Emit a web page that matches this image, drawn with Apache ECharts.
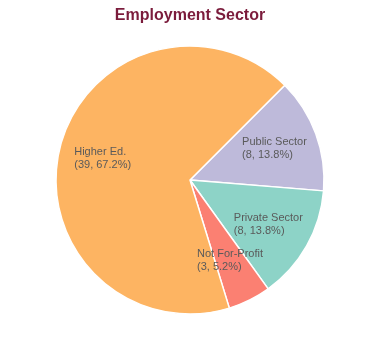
<!DOCTYPE html>
<html>
<head>
<meta charset="utf-8">
<script src="https://cdn.jsdelivr.net/npm/echarts@6/dist/echarts.min.js"></script>
<style>html,body{margin:0;padding:0;background:#fff}#c{width:380px;height:360px}</style>
</head>
<body>
<div id="c"></div>
<script>
const categories = ['Public Sector', 'Private Sector', 'Not For-Profit', 'Higher Ed.'];
const values = [8, 8, 3, 39];
const colors = ['#bebada', '#8dd3c7', '#fb8072', '#fdb462'];

const total = values.reduce((a, b) => a + b, 0);
const data = categories.map((c, i) => ({ name: c, value: values[i], itemStyle: { color: colors[i] } }));
const labelData = categories.map((c, i) => ({ name: c, value: values[i] }));

const chart = echarts.init(document.getElementById('c'), null, { renderer: 'canvas' });
chart.setOption({
  animation: false,
  title: {
    text: 'Employment Sector',
    left: 'center',
    top: 3,
    textStyle: { fontFamily: 'Liberation Sans, Arial, sans-serif', fontSize: 16, fontWeight: 'bold', color: '#7b1c3c' }
  },
  series: [
    {
      type: 'pie',
      center: [190, 180],
      radius: [0, 134],
      startAngle: 45,
      clockwise: true,
      silent: true,
      label: { show: false },
      labelLine: { show: false },
      itemStyle: { borderColor: '#fff', borderWidth: 1.5 },
      data: data
    },
    {
      type: 'pie',
      center: [190, 180],
      radius: [40, 134],
      startAngle: 45,
      clockwise: true,
      silent: true,
      itemStyle: { color: 'rgba(0,0,0,0)' },
      labelLine: { show: false },
      label: {
        show: true,
        position: 'inside',
        color: '#5a5a5a',
        fontFamily: 'Liberation Sans, Arial, sans-serif',
        fontSize: 11,
        lineHeight: 13,
        formatter: p => '{l|' + p.name + '}\n{l|(' + p.value + ', ' + (p.value / total * 100).toFixed(1) + '%)}',
        rich: { l: { align: 'left', color: '#5a5a5a', fontSize: 11, lineHeight: 13, fontFamily: 'Liberation Sans, Arial, sans-serif' } }
      },
      data: labelData
    }
  ]
});
</script>
</body>
</html>
